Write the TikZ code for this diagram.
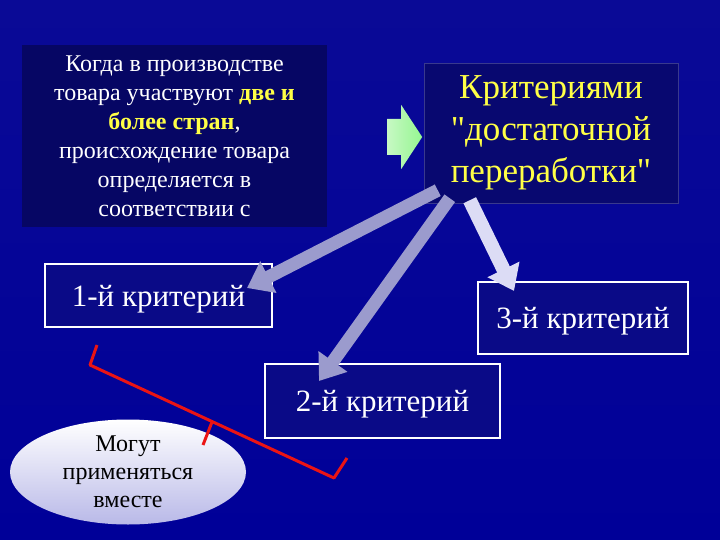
\documentclass[tikz,border=0pt]{standalone}
\usepackage{fontspec}
\setmainfont{Liberation Serif}[Ligatures=TeXOff]
\usetikzlibrary{arrows.meta, positioning, shapes.geometric}
\definecolor{bgtop}{RGB}{10,10,150}
\definecolor{bgbot}{RGB}{0,0,152}
\definecolor{navybox}{RGB}{6,6,100}
\definecolor{critbox}{RGB}{8,8,112}
\definecolor{kbox}{RGB}{10,10,135}
\definecolor{slate}{RGB}{155,155,205}
\definecolor{pale}{RGB}{220,220,245}
\definecolor{lemon}{RGB}{255,255,70}
\definecolor{lavend}{RGB}{185,185,232}
\definecolor{leaf}{RGB}{175,245,170}
\definecolor{bracered}{RGB}{235,20,20}
\newcommand*{\hl}[1]{\textcolor{lemon}{\textbf{#1}}}

\begin{document}
\begin{tikzpicture}[
        x=1pt,y=-1pt,
        kritbox/.style={draw=white, line width=2pt, fill=kbox, text=white,
          inner sep=0pt, text depth=0pt, font=\fontsize{31}{34}\selectfont},
        fat/.style={line width=13pt, draw=slate,
          -{Triangle[length=24pt,width=34pt]}},
        ]
        \useasboundingbox (0,0) rectangle (720,540);
        \shade[top color=bgtop, bottom color=bgbot] (0,0) rectangle (720,540);

        \node[fill=navybox, text=white, align=center, minimum width=305pt,
          minimum height=182pt, font=\fontsize{24}{29}\selectfont]
          (t_0) at (174.5,136) {Когда в производстве\\товара участвуют \hl{две и}\\
          \hl{более стран},\\происхождение товара\\определяется в\\соответствии с};
        \node[fill=critbox, draw=critbox!80!white, line width=0.5pt, text=lemon,
          align=center, minimum width=254pt, minimum height=140pt,
          font=\fontsize{35}{42}\selectfont]
          (c_0) at (551,133) {Критериями\\"достаточной\\переработки"};

        \node[kritbox, minimum width=227pt, minimum height=63pt] (k_1) at (158.5,295.5) {1-й критерий};
        \node[kritbox, minimum width=235pt, minimum height=74pt] (k_2) at (382.5,401) {2-й критерий};
        \node[kritbox, minimum width=210pt, minimum height=72pt] (k_3) at (583,318) {3-й критерий};

        \node[ellipse, top color=white, bottom color=lavend, text=black, align=center,
          minimum width=236pt, minimum height=105pt, inner sep=0pt,
          font=\fontsize{24}{28}\selectfont]
          (e_0) at (128,472) {Могут\\применяться\\вместе};

        % green arrow between the two upper boxes
        \coordinate (g_0) at ([shift={(60,1)}]t_0.east);
        \shade[left color=leaf!70!white, right color=leaf!85!green] (g_0)
          -- ++(0,-18) -- ++(14,0) -- ++(0,-14) -- ++(21,32)
          -- ++(-21,32) -- ++(0,-14) -- ++(-14,0) -- cycle;

        % criteria arrows
        \draw[fat] ([shift={(14,-13)}]c_0.south west) -- ([shift={(-26,25)}]k_1.north east);
        \draw[fat] ([shift={(26,-5)}]c_0.south west) -- ([shift={(55,18)}]k_2.north west);
        \draw[fat, draw=pale, line width=14pt] ([shift={(46,-3)}]c_0.south west) -- ([shift={(37,10)}]k_3.north west);

        % bracket
        \draw[bracered, line width=3pt, line join=round]
          ([shift={(53,17)}]k_1.south west) -- ++(-7,20) -- (334,478) -- ++(13,-20);
        \draw[bracered, line width=3pt] (212,422) -- (203,445);
      \end{tikzpicture}
\end{document}
